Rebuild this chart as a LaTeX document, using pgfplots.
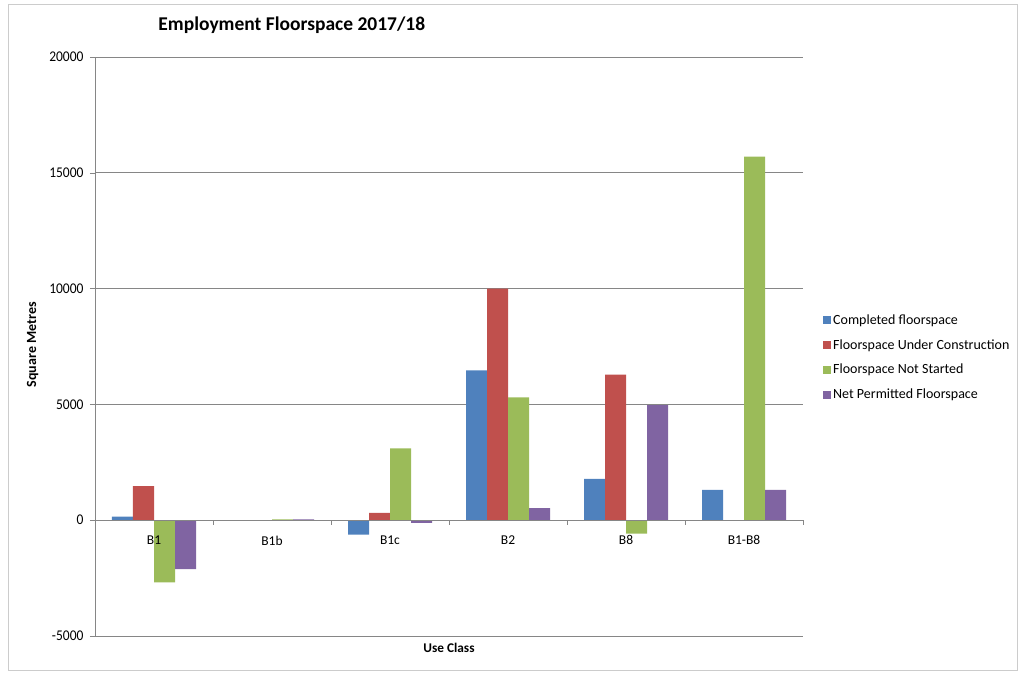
\documentclass[border=0pt]{standalone}
\usepackage{pgfplots}
\pgfplotsset{compat=1.18}
\usepackage{fontspec}
\setmainfont{Carlito}
\definecolor{cBlue}{HTML}{4F81BD}
\definecolor{cRed}{HTML}{C0504D}
\definecolor{cGreen}{HTML}{9BBB59}
\definecolor{cPurple}{HTML}{8064A2}
\definecolor{cGrid}{HTML}{868686}
\begin{document}
\begin{tikzpicture}
\path[use as bounding box] (0,0) rectangle (1023pt,674pt);
\draw[gray!40, line width=1pt] (8pt,3pt) rectangle (1017pt,669pt);
\begin{axis}[
  clip=false,
  at={(95pt,38pt)}, anchor=south west,
  scale only axis, width=708pt, height=579pt,
  xmin=-0.5, xmax=5.5, ymin=-5000, ymax=20000,
  axis x line=middle, axis y line=left,
  axis line style={-, cGrid},
  ytick={-5000,0,5000,10000,15000,20000},
  scaled y ticks=false,
  ymajorgrids, grid style={cGrid, line width=0.6pt},
  y tick style={cGrid}, tick align=outside,
  major tick length=5pt,
  xtick=\empty,
  yticklabel style={font=\fontsize{13.5}{15}\selectfont, xshift=-3pt, yscale=1.1},
  /pgf/number format/.cd, 1000 sep={}, assume math mode=true,
  /pgfplots/.cd,
  ybar=0pt, bar width=21pt,
  legend style={draw=none, at={(1.024,0.562)}, anchor=north west,
    font=\fontsize{14}{16}\selectfont, row sep=9.5pt,
    /tikz/every even column/.append style={column sep=3pt}},
  legend cell align=left,
  legend image code/.code={\fill[#1] (0pt,-4pt) rectangle (8pt,4pt);},
]
\addplot[fill=cBlue, draw=none] coordinates {(0,150) (1,0) (2,-620) (3,6470) (4,1780) (5,1310)};
\addplot[fill=cRed, draw=none] coordinates {(0,1470) (1,0) (2,315) (3,10000) (4,6290) (5,0)};
\addplot[fill=cGreen, draw=none] coordinates {(0,-2680) (1,40) (2,3100) (3,5300) (4,-575) (5,15700)};
\addplot[fill=cPurple, draw=none] coordinates {(0,-2110) (1,40) (2,-120) (3,520) (4,4970) (5,1310)};
\legend{Completed floorspace, Floorspace Under Construction, Floorspace Not Started, Net Permitted Floorspace}
\pgfplotsinvokeforeach{-0.5,0.5,1.5,2.5,3.5,4.5,5.5}{
  \draw[cGrid] (axis cs:#1,0) -- ++(0pt,-5pt);
}
\draw[cGrid] (axis cs:-0.5,0) -- (axis cs:5.5,0);
\node[font=\fontsize{13.5}{15}\selectfont, anchor=north] at (axis cs:0,0) [yshift=-12pt] {B1};
\node[font=\fontsize{13.5}{15}\selectfont, anchor=north] at (axis cs:1,0) [yshift=-12pt] {B1b};
\node[font=\fontsize{13.5}{15}\selectfont, anchor=north] at (axis cs:2,0) [yshift=-12pt] {B1c};
\node[font=\fontsize{13.5}{15}\selectfont, anchor=north] at (axis cs:3,0) [yshift=-12pt] {B2};
\node[font=\fontsize{13.5}{15}\selectfont, anchor=north] at (axis cs:4,0) [yshift=-12pt] {B8};
\node[font=\fontsize{13.5}{15}\selectfont, anchor=north] at (axis cs:5,0) [yshift=-12pt] {B1-B8};
\node[font=\bfseries\fontsize{13.3}{15}\selectfont] at (axis description cs:0.5,-0.021) {Use Class};
\node[font=\bfseries\fontsize{14}{16}\selectfont, rotate=90] at (axis description cs:-0.088,0.503) {Square Metres};
\node[font=\bfseries\fontsize{19.5}{22}\selectfont] at (axis description cs:0.278,1.055) {Employment Floorspace 2017/18};
\end{axis}
\end{tikzpicture}
\end{document}
